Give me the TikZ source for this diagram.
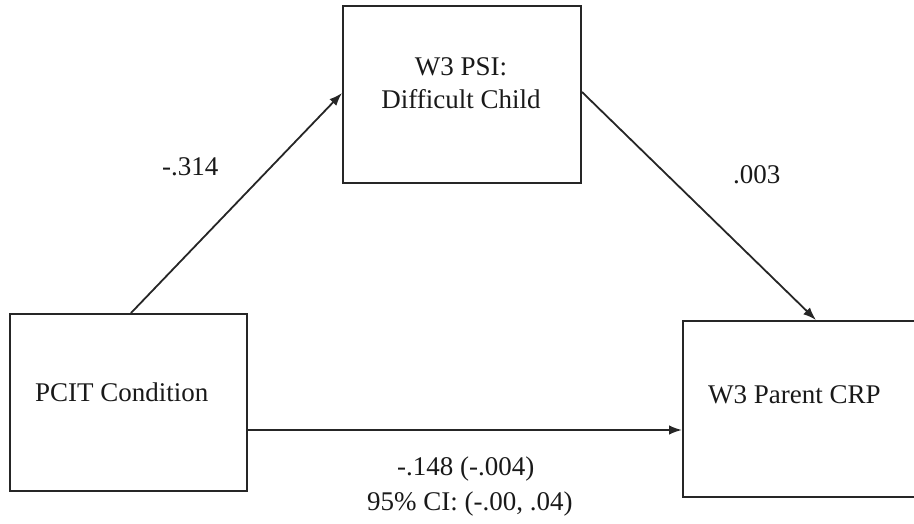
\documentclass[tikz,border=0pt]{standalone}
\usepackage{fontspec}
\setmainfont{Liberation Serif}
\usetikzlibrary{arrows.meta}
\begin{document}
\begin{tikzpicture}[x=1pt,y=-1pt,
  box/.style={draw=black!85, line width=2pt, rectangle, inner sep=0pt},
  txt/.style={font=\fontsize{27}{33}\selectfont, inner sep=0pt, anchor=base west, text=black!90},
  conn/.style={draw=black!85, line width=1.8pt, -{Latex[length=13pt,width=9.5pt]}}]
\useasboundingbox (0,0) rectangle (914,523);
% boxes
\node[box, minimum width=237pt, minimum height=177pt] (pcit) at (128.5,402.5) {};
\node[box, minimum width=238pt, minimum height=177pt] (psi) at (462,94.5) {};
\node[box, minimum width=237pt, minimum height=176pt] (crp) at (801.5,409) {};
% box texts
\node[txt] (tpcit) at (35,401) {PCIT Condition};
\node[txt, anchor=base] (tpsia) at (461,75) {W3 PSI:};
\node[txt, anchor=base] (tpsib) at (461,108) {Difficult Child};
\node[txt] (tcrp) at (708,403) {W3 Parent CRP};
% connectors
\draw[conn] ([xshift=122pt]pcit.north west) -- ([yshift=1.5pt]psi.west);
\draw[conn] ([yshift=2.5pt]psi.east) -- ([xshift=134pt]crp.north west);
\draw[conn] ([yshift=-27.5pt]pcit.east) -- ([yshift=-21pt]crp.west);
% labels
\node[txt] (la) at (162,175) {-.314};
\node[txt] (lb) at (733,183) {.003};
\node[txt] (lc) at (397,475) {-.148 (-.004)};
\node[txt] (ld) at (367,510) {95\% CI: (-.00, .04)};
\end{tikzpicture}
\end{document}
